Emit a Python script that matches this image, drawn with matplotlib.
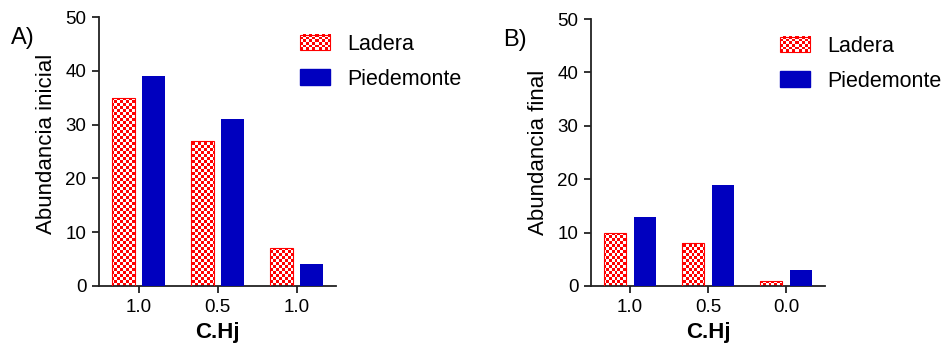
import matplotlib
matplotlib.use("Agg")
import matplotlib.pyplot as plt
import numpy as np
from matplotlib.colors import ListedColormap
from matplotlib.patches import Patch, Rectangle
from matplotlib.legend_handler import HandlerPatch
from matplotlib.image import BboxImage
from matplotlib.transforms import Bbox, TransformedBbox

plt.rcParams['font.family'] = ['Liberation Sans', 'DejaVu Sans']

cats_a = ['1.0', '0.5', '1.0']
ladera_a = [35, 27, 7]
piedemonte_a = [39, 31, 4]

cats_b = ['1.0', '0.5', '0.0']
ladera_b = [10, 8, 1]
piedemonte_b = [13, 19, 3]

RED = '#FF0000'
BLUE = '#0000BF'
checker_cmap = ListedColormap(['white', RED])


def checker(nx, ny):
    i, j = np.indices((ny, nx))
    return (i + j) % 2


class CheckerHandler(HandlerPatch):
    def create_artists(self, legend, orig_handle, xdescent, ydescent,
                       width, height, fontsize, trans):
        bb = Bbox.from_bounds(-xdescent, -ydescent, width, height)
        img = BboxImage(TransformedBbox(bb, trans), cmap=checker_cmap,
                        interpolation='nearest')
        img.set_data(checker(10, 6))
        edge = Rectangle((-xdescent, -ydescent), width, height,
                         facecolor='none', edgecolor=RED, lw=0.8,
                         transform=trans)
        return [img, edge]


def panel(fig, rect, cats, lad, pied, ylabel, ylab_xy, tag, tag_xy, leg_xy):
    ax = fig.add_axes(rect)
    x = np.arange(len(cats))
    w = 0.28
    red_bars = ax.bar(x - 0.19, lad, w, facecolor='none', edgecolor=RED,
                      lw=0.8, zorder=3)
    ax.bar(x + 0.19, pied, w, color=BLUE, zorder=3)

    ax.set_xlim(-0.5, 2.5)
    ax.set_ylim(0, 50)
    # checker fill clipped to each Ladera bar
    for p in red_bars.patches:
        im = ax.imshow(checker(79, 90), cmap=checker_cmap,
                       interpolation='nearest', aspect='auto',
                       extent=(-0.5, 2.5, 0, 50), zorder=2)
        im.set_clip_path(p)
    ax.set_xlim(-0.5, 2.5)
    ax.set_ylim(0, 50)

    ax.set_xticks(x)
    ax.set_xticklabels(cats)
    ax.set_yticks(range(0, 51, 10))
    ax.tick_params(direction='out', length=5, width=1.3, labelsize=13.5,
                   color='#222222', pad=4)
    for s in ['top', 'right']:
        ax.spines[s].set_visible(False)
    for s in ['left', 'bottom']:
        ax.spines[s].set_linewidth(1.3)
        ax.spines[s].set_color('#222222')
    ax.set_xlabel('C.Hj', fontsize=16, fontweight='bold', labelpad=5)
    ax.set_ylabel(ylabel, fontsize=16, va='center')
    ax.yaxis.set_label_coords(*ylab_xy)

    fig.text(tag_xy[0] / 943, 1 - tag_xy[1] / 350, tag, fontsize=17,
             ha='left', va='center')

    handles = [Patch(facecolor='white', edgecolor=RED),
               Patch(facecolor=BLUE, edgecolor=BLUE)]
    fig.legend(handles, ['Ladera', 'Piedemonte'], loc='upper left',
               bbox_to_anchor=(leg_xy[0] / 943, 1 - leg_xy[1] / 350),
               frameon=False, fontsize=15.5, borderpad=0, borderaxespad=0,
               handlelength=1.4, handleheight=0.75, handletextpad=0.8,
               labelspacing=0.64,
               handler_map={handles[0]: CheckerHandler()})
    return ax


fig = plt.figure(figsize=(9.43, 3.5), dpi=100)
panel(fig, [99 / 943, 64 / 350, 237 / 943, 269 / 350], cats_a, ladera_a,
      piedemonte_a, 'Abundancia inicial', (-0.22, 0.53), 'A)', (11, 38),
      (300, 34))
panel(fig, [591 / 943, 64 / 350, 234 / 943, 267 / 350], cats_b, ladera_b,
      piedemonte_b, 'Abundancia final', (-0.225, 0.50), 'B)', (503, 40),
      (780, 36))

fig.savefig('out.png', dpi=100)
